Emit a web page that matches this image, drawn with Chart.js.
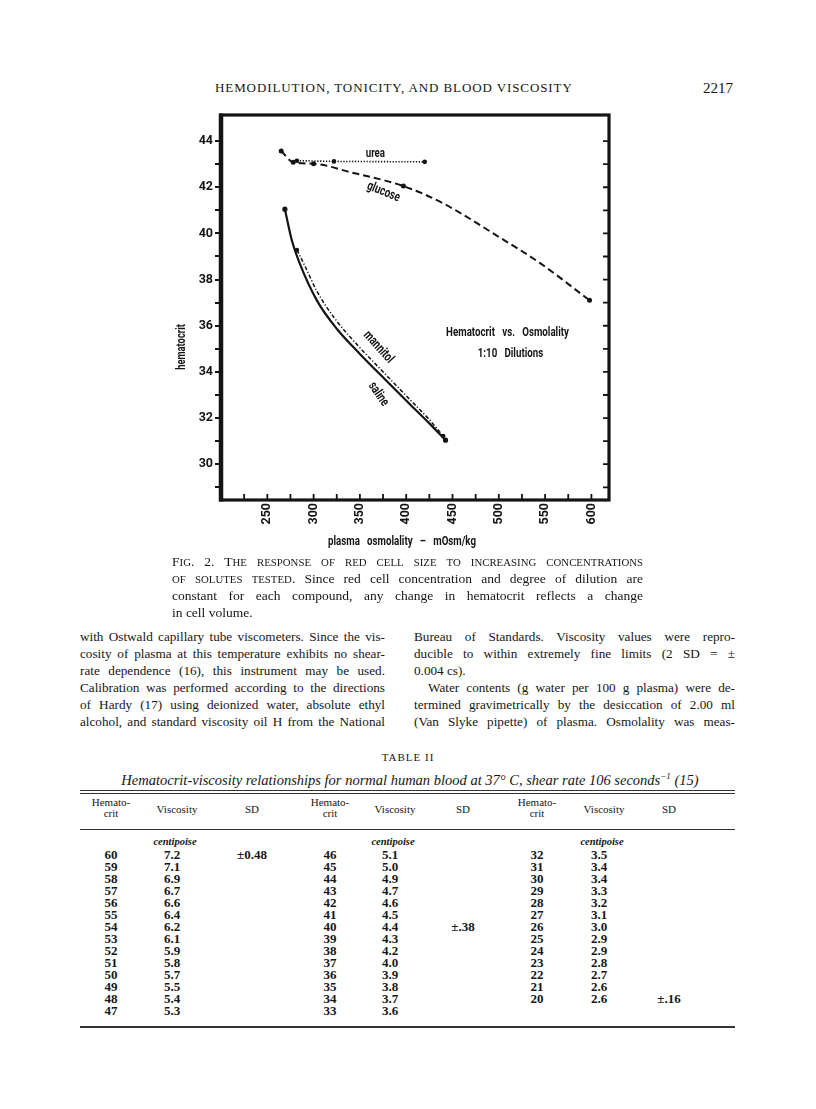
<!DOCTYPE html>
<html>
<head>
<meta charset="utf-8">
<script src="https://cdn.jsdelivr.net/npm/chart.js@4.4.1/dist/chart.umd.min.js"></script>
<style>
  html, body { margin: 0; padding: 0; background: #fff; }
  #page { position: relative; width: 816px; height: 1109px; overflow: hidden;
          font-family: "Liberation Serif", "Times New Roman", serif; color: #161616; }
  .abs { position: absolute; white-space: nowrap; }
  .runhead { left: 215px; top: 80px; font-size: 13px; letter-spacing: 0.9px; line-height: 16px; }
  .pageno { left: 703px; top: 79px; font-size: 15px; line-height: 18px; }
  #chartBox { position: absolute; left: 150px; top: 100px; width: 480px; height: 470px; }
  .line { position: absolute; height: 17px; line-height: 17px; white-space: normal; overflow: visible; }
  .jl { text-align: justify; text-align-last: justify; }
  .cap { left: 172px; width: 471px; font-size: 13.5px; }
  .s { font-size: 0.8em; }
  .colL { left: 80px; width: 305px; font-size: 13.2px; }
  .colR { left: 414px; width: 321px; font-size: 13.2px; }
  .rule { position: absolute; left: 80px; width: 655px; height: 1px; background: #333; }
  .cell { position: absolute; width: 70px; text-align: center; font-size: 13px; line-height: 12px; font-weight: bold; }
  .hd { position: absolute; width: 80px; text-align: center; font-size: 11px; line-height: 11px; }
  .unit { position: absolute; width: 80px; text-align: center; font-size: 10.5px; line-height: 12px; font-style: italic; font-weight: bold; }
</style>
</head>
<body>
<div id="page">
  <div class="abs runhead">HEMODILUTION, TONICITY, AND BLOOD VISCOSITY</div>
  <div class="abs pageno">2217</div>

  <div id="chartBox"><canvas id="chart" width="480" height="470"></canvas></div>

  <div class="line cap jl" id="cap1" style="top:553px"></div>
  <div class="line cap jl" style="top:570px"><span id="cap2"></span> Since red cell concentration and degree of dilution are</div>
  <div class="line cap jl" style="top:587px">constant for each compound, any change in hematocrit reflects a change</div>
  <div class="line cap" style="top:604px">in cell volume.</div>

  <div class="line colL jl" style="top:628px">with Ostwald capillary tube viscometers. Since the vis-</div>
  <div class="line colL jl" style="top:645px">cosity of plasma at this temperature exhibits no shear-</div>
  <div class="line colL jl" style="top:662px">rate dependence (16), this instrument may be used.</div>
  <div class="line colL jl" style="top:679px">Calibration was performed according to the directions</div>
  <div class="line colL jl" style="top:696px">of Hardy (17) using deionized water, absolute ethyl</div>
  <div class="line colL jl" style="top:713px">alcohol, and standard viscosity oil H from the National</div>

  <div class="line colR jl" style="top:628px">Bureau of Standards. Viscosity values were repro-</div>
  <div class="line colR jl" style="top:645px">ducible to within extremely fine limits (2 SD = ±</div>
  <div class="line colR" style="top:662px">0.004 cs).</div>
  <div class="line colR jl" style="top:679px; padding-left:14px; width:307px">Water contents (g water per 100 g plasma) were de-</div>
  <div class="line colR jl" style="top:696px">termined gravimetrically by the desiccation of 2.00 ml</div>
  <div class="line colR jl" style="top:713px">(Van Slyke pipette) of plasma. Osmolality was meas-</div>

  <div class="abs" style="left:0; width:816px; top:750px; text-align:center; font-size:11px; letter-spacing:1px; line-height:14px;">TABLE II</div>
  <div class="abs" style="left:0; width:820px; top:768px; text-align:center; font-size:14.5px; font-style:italic; line-height:16px;">Hematocrit-viscosity relationships for normal human blood at 37° C, shear rate 106 seconds<sup style="font-size:9px">−1</sup> (15)</div>

  <div class="rule" style="top:790px"></div>
  <div class="rule" style="top:793px"></div>
  <div class="rule" style="top:829px"></div>
  <div class="rule" style="top:1026px; height:1.5px"></div>
  <div id="table"></div>
</div>

<script>
// Hematocrit vs. osmolality (1:10 dilutions)
const ureaOsm = [282, 322, 420];
const ureaHct = [43.15, 43.12, 43.1];

const glucoseOsm = [265, 278, 300, 340, 397, 440, 500, 545, 598];
const glucoseHct = [43.57, 43.08, 43.02, 42.65, 42.05, 41.3, 39.85, 38.7, 37.1];

const salineOsm = [269, 276.5, 285, 303.5, 325, 350, 377, 404, 425, 442.5];
const salineHct = [41.05, 39.7, 38.7, 37.1, 35.87, 34.78, 33.68, 32.6, 31.77, 31.04];

const mannitolOsm = [282, 290.5, 303.5, 325, 350, 377, 404, 425, 440];
const mannitolHct = [39.28, 38.6, 37.5, 36.2, 35.05, 33.92, 32.8, 31.93, 31.22];

// osmolalities where the plotted points are marked with a dot
const ureaDots = [282, 322, 420];
const glucoseDots = [265, 278, 300, 397, 598];
const salineDots = [269, 442.5];
const mannitolDots = [282, 440];

const xTicks = [225, 250, 275, 300, 325, 350, 375, 400, 425, 450, 475, 500, 525, 550, 575, 600];
const xLabels = [250, 300, 350, 400, 450, 500, 550, 600];
const yTicks = [29, 30, 31, 32, 33, 34, 35, 36, 37, 38, 39, 40, 41, 42, 43, 44];
const yLabels = [30, 32, 34, 36, 38, 40, 42, 44];

// Table II
const hctA = [60, 59, 58, 57, 56, 55, 54, 53, 52, 51, 50, 49, 48, 47];
const viscA = [7.2, 7.1, 6.9, 6.7, 6.6, 6.4, 6.2, 6.1, 5.9, 5.8, 5.7, 5.5, 5.4, 5.3];
const hctB = [46, 45, 44, 43, 42, 41, 40, 39, 38, 37, 36, 35, 34, 33];
const viscB = [5.1, 5.0, 4.9, 4.7, 4.6, 4.5, 4.4, 4.3, 4.2, 4.0, 3.9, 3.8, 3.7, 3.6];
const hctC = [32, 31, 30, 29, 28, 27, 26, 25, 24, 23, 22, 21, 20];
const viscC = [3.5, 3.4, 3.4, 3.3, 3.2, 3.1, 3.0, 2.9, 2.9, 2.8, 2.7, 2.6, 2.6];

const ink = '#141414';
const sans = 'Roboto, "Liberation Sans", sans-serif';

const notes = [
  { text: 'urea', x: 366.7, y: 43.44, rot: 0 },
  { text: 'glucose', x: 375.3, y: 41.79, rot: 22 },
  { text: 'mannitol', x: 369.9, y: 35.07, rot: 48 },
  { text: 'saline', x: 369.9, y: 33.03, rot: 56 },
  { text: 'Hematocrit   vs.   Osmolality', x: 509.4, y: 35.72, rot: 0 },
  { text: '1:10   Dilutions', x: 512.6, y: 34.81, rot: 0 }
];

// fake small caps: lower case letters become smaller capitals
function smallCaps(t) {
  return t.split('').map(ch => (ch >= 'a' && ch <= 'z') ? '<span class="s">' + ch.toUpperCase() + '</span>' : ch).join('');
}
document.getElementById('cap1').innerHTML = smallCaps('Fig. 2. The response of red cell size to increasing concentrations');
document.getElementById('cap2').innerHTML = smallCaps('of solutes tested.');

function pts(xs, ys) {
  return xs.map((x, i) => ({ x: x, y: ys[i] }));
}

function dotRadius(dots) {
  return ctx => (ctx.raw && dots.includes(ctx.raw.x)) ? 1.5 : 0;
}

// condensed bold text (no condensed face is installed)
function narrowText(ctx, text, px, py, rot, size) {
  ctx.save();
  ctx.translate(px, py);
  ctx.rotate(rot * Math.PI / 180);
  ctx.scale(0.72, 1);
  ctx.font = 'bold ' + size + 'px ' + sans;
  ctx.fillText(text, 0, 0);
  ctx.restore();
}

const framePlugin = {
  id: 'frame',
  afterDatasetsDraw(chart) {
    const ctx = chart.ctx;
    const a = chart.chartArea;
    const x = chart.scales.x, y = chart.scales.y;
    ctx.save();
    ctx.strokeStyle = ink;
    ctx.lineWidth = 3.2;
    ctx.strokeRect(a.left, a.top, a.right - a.left, a.bottom - a.top);
    ctx.lineWidth = 4.5;
    ctx.beginPath();
    ctx.moveTo(a.left, a.top - 1.5);
    ctx.lineTo(a.left, a.bottom + 1.5);
    ctx.stroke();

    // inward ticks, bottom and right
    ctx.lineWidth = 1.8;
    ctx.beginPath();
    xTicks.forEach(v => {
      const px = x.getPixelForValue(v);
      ctx.moveTo(px, a.bottom);
      ctx.lineTo(px, a.bottom - 6);
    });
    yTicks.forEach(v => {
      const py = y.getPixelForValue(v);
      ctx.moveTo(a.right, py);
      ctx.lineTo(a.right - 6, py);
    });
    ctx.stroke();

    // curve labels
    ctx.fillStyle = ink;
    ctx.textAlign = 'center';
    ctx.textBaseline = 'middle';
    notes.forEach(n => {
      narrowText(ctx, n.text, x.getPixelForValue(n.x), y.getPixelForValue(n.y), n.rot, 13.5);
    });

    // axis titles
    narrowText(ctx, 'plasma   osmolality   –   mOsm/kg', 252, 442, 0, 13.5);
    narrowText(ctx, 'hematocrit', 32, 247, -90, 13);
    ctx.restore();
  }
};

new Chart(document.getElementById('chart'), {
  type: 'line',
  data: {
    datasets: [
      {
        label: 'urea',
        data: pts(ureaOsm, ureaHct),
        borderColor: ink, backgroundColor: ink,
        borderWidth: 1.6, borderDash: [1.3, 1.6],
        pointRadius: dotRadius(ureaDots), tension: 0
      },
      {
        label: 'glucose',
        data: pts(glucoseOsm, glucoseHct),
        borderColor: ink, backgroundColor: ink,
        borderWidth: 2, borderDash: [7, 4],
        pointRadius: dotRadius(glucoseDots), cubicInterpolationMode: 'monotone'
      },
      {
        label: 'saline',
        data: pts(salineOsm, salineHct),
        borderColor: ink, backgroundColor: ink,
        borderWidth: 2.2,
        pointRadius: dotRadius(salineDots), cubicInterpolationMode: 'monotone'
      },
      {
        label: 'mannitol',
        data: pts(mannitolOsm, mannitolHct),
        borderColor: ink, backgroundColor: ink,
        borderWidth: 1.5, borderDash: [4, 2, 1.2, 2],
        pointRadius: dotRadius(mannitolDots), cubicInterpolationMode: 'monotone'
      }
    ]
  },
  options: {
    responsive: false,
    animation: false,
    devicePixelRatio: 1,
    layout: { padding: { top: 15, right: 21, left: 0, bottom: 0 } },
    plugins: { legend: { display: false }, tooltip: { enabled: false } },
    scales: {
      x: {
        type: 'linear', min: 200, max: 619,
        afterBuildTicks: s => { s.ticks = xTicks.map(v => ({ value: v })); },
        afterFit: s => { s.height = 70; },
        grid: { display: false, drawTicks: false },
        border: { display: false },
        ticks: {
          minRotation: 90, maxRotation: 90, padding: 3, autoSkip: false,
          color: ink, font: { family: sans, size: 12.5, weight: 'bold' },
          callback: v => xLabels.includes(v) ? String(v) : ''
        }
      },
      y: {
        type: 'linear', min: 28.45, max: 45.13,
        afterBuildTicks: s => { s.ticks = yTicks.map(v => ({ value: v })); },
        afterFit: s => { s.width = 71; },
        grid: { drawOnChartArea: false, drawTicks: true, tickLength: 6, lineWidth: 2, color: ink },
        border: { display: false },
        ticks: {
          padding: 2, autoSkip: false,
          color: ink, font: { family: sans, size: 12.5, weight: 'bold' },
          callback: v => yLabels.includes(v) ? String(v) : ''
        }
      }
    }
  },
  plugins: [framePlugin]
});

// Table II body
const table = document.getElementById('table');
function put(cls, text, cx, top, w) {
  const d = document.createElement('div');
  d.className = cls;
  d.style.left = (cx - w / 2) + 'px';
  d.style.top = top + 'px';
  d.innerHTML = text;
  table.appendChild(d);
}
const hctX = [111, 330, 537];
const viscX = [172, 390, 599];
const sdX = [252, 463, 669];
[0, 1, 2].forEach(k => {
  put('hd', 'Hemato-<br>crit', hctX[k], 797, 80);
  put('hd', 'Viscosity', viscX[k] + 5, 804, 80);
  put('hd', 'SD', sdX[k], 804, 80);
  put('unit', 'centipoise', viscX[k] + 3, 836, 80);
});
const cols = [[hctA, viscA], [hctB, viscB], [hctC, viscC]];
cols.forEach((c, k) => {
  c[0].forEach((h, i) => {
    put('cell', String(h), hctX[k], 849 + i * 12, 70);
    put('cell', c[1][i].toFixed(1), viscX[k], 849 + i * 12, 70);
  });
});
put('cell', '±0.48', sdX[0], 849, 70);
put('cell', '±.38', sdX[1], 849 + 6 * 12, 70);
put('cell', '±.16', sdX[2], 849 + 12 * 12, 70);
</script>
</body>
</html>
